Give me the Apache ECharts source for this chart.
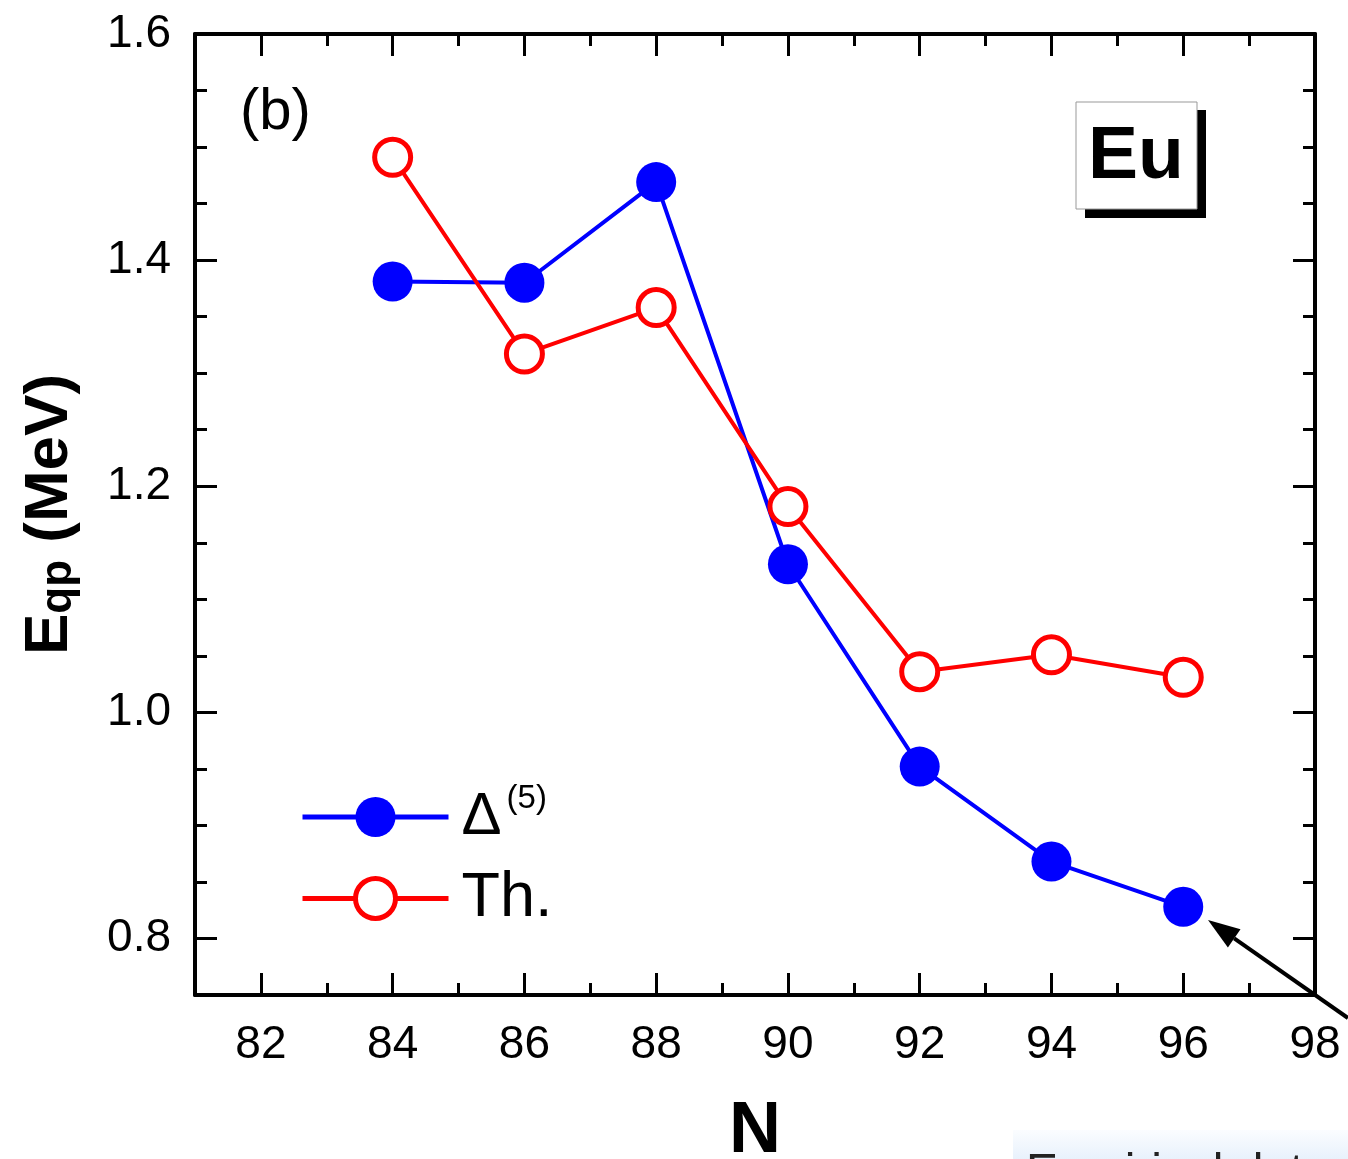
<!DOCTYPE html>
<html>
<head>
<meta charset="utf-8">
<title>Eu Eqp</title>
<script src="https://cdn.jsdelivr.net/npm/echarts@6/dist/echarts.min.js"></script>
<style>
    html, body { margin: 0; padding: 0; background: #fff; }
    #main { width: 1348px; height: 1159px; }
</style>
</head>
<body>
<div id="main"></div>
<script>
var fontFamily = 'Liberation Sans, Arial, sans-serif';

//数据
var nValues = [84, 86, 88, 90, 92, 94, 96];
var delta5 = [1.381, 1.380, 1.469, 1.131, 0.952, 0.868, 0.828];
var theory = [1.491, 1.317, 1.358, 1.182, 1.036, 1.051, 1.031];

//刻度
var xMajor = [82, 84, 86, 88, 90, 92, 94, 96, 98];
var xMinor = [83, 85, 87, 89, 91, 93, 95, 97];
var yMajor = [0.8, 1.0, 1.2, 1.4, 1.6];
var yMinor = [0.85, 0.9, 0.95, 1.05, 1.1, 1.15, 1.25, 1.3, 1.35, 1.45, 1.5, 1.55];

function pairs(xs, ys) {
    var out = [];
    for (var i = 0; i < xs.length; i++) out.push([xs[i], ys[i]]);
    return out;
}

//坐标轴
function makeAxis(opts) {
    return {
        type: 'value',
        min: opts.min,
        max: opts.max,
        position: opts.position,
        gridIndex: 0,
        axisLine: { show: opts.line, onZero: false, lineStyle: { color: '#000', width: 4 } },
        axisTick: {
            show: true, inside: true, length: opts.len,
            customValues: opts.ticks,
            lineStyle: { color: '#000', width: 3 }
        },
        axisLabel: opts.labels ? {
            show: true, customValues: opts.ticks,
            fontSize: 46, color: '#000', fontFamily: fontFamily,
            margin: opts.margin,
            formatter: opts.fmt
        } : { show: false },
        splitLine: { show: false },
        name: opts.name || '',
        nameLocation: 'middle',
        nameGap: opts.nameGap || 0,
        nameTextStyle: opts.nameStyle || {}
    };
}

var xAxes = [
    makeAxis({ min: 81, max: 98, position: 'bottom', line: true, len: 22, ticks: xMajor, labels: true, margin: 27,
        fmt: function(v) { return String(v); },
        name: 'N', nameGap: 101,
        nameStyle: { fontSize: 72, fontWeight: 'bold', color: '#000', fontFamily: fontFamily } }),
    makeAxis({ min: 81, max: 98, position: 'bottom', line: false, len: 12, ticks: xMinor }),
    makeAxis({ min: 81, max: 98, position: 'top', line: true, len: 22, ticks: xMajor }),
    makeAxis({ min: 81, max: 98, position: 'top', line: false, len: 12, ticks: xMinor })
];

var yAxes = [
    makeAxis({ min: 0.75, max: 1.6, position: 'left', line: true, len: 22, ticks: yMajor, labels: true, margin: 24,
        fmt: function(v) { return v.toFixed(1); },
        name: '{b|E}{s|qp}{b| (MeV)}', nameGap: 114,
        nameStyle: {
            color: '#000',
            rich: {
                b: { fontSize: 62, fontWeight: 'bold', fontFamily: fontFamily, lineHeight: 62, color: '#000' },
                s: { fontSize: 44, fontWeight: 'bold', fontFamily: fontFamily, lineHeight: 30, verticalAlign: 'bottom', color: '#000' }
            }
        } }),
    makeAxis({ min: 0.75, max: 1.6, position: 'left', line: false, len: 12, ticks: yMinor }),
    makeAxis({ min: 0.75, max: 1.6, position: 'right', line: true, len: 22, ticks: yMajor }),
    makeAxis({ min: 0.75, max: 1.6, position: 'right', line: false, len: 12, ticks: yMinor })
];

//箭头 (注释)
var tip = [1208, 920], ux = 0.819, uy = 0.574, headLen = 32, headW = 11;
var baseX = tip[0] + headLen * ux, baseY = tip[1] + headLen * uy;

var option = {
    animation: false,
    backgroundColor: '#fff',
    grid: { left: 195, right: 33, top: 34, bottom: 164, containLabel: false, outerBoundsMode: 'none' },
    xAxis: xAxes,
    yAxis: yAxes,
    legend: {
        orient: 'vertical',
        left: 300,
        top: 782,
        padding: 0,
        itemWidth: 146,
        itemHeight: 50,
        itemGap: 20,
        data: [
            { name: 'D5', itemStyle: { color: '#0000ff', borderWidth: 0 }, lineStyle: { color: '#0000ff', width: 5 } },
            { name: 'Th', itemStyle: { color: '#fff', borderColor: '#ff0000', borderWidth: 5 }, lineStyle: { color: '#ff0000', width: 5 } }
        ],
        formatter: function(name) {
            return name == 'D5' ? '{d|Δ}{sup|(5)}' : '{t|Th.}';
        },
        textStyle: {
            rich: {
                d: { fontSize: 60, fontFamily: fontFamily, color: '#000', lineHeight: 70, padding: [0, 0, 0, 8] },
                sup: { fontSize: 33, fontFamily: fontFamily, color: '#000', lineHeight: 30, verticalAlign: 'top', padding: [0, 0, 0, 5] },
                t: { fontSize: 63, fontFamily: fontFamily, color: '#000', lineHeight: 70, padding: [0, 0, 0, 8] }
            }
        }
    },
    series: [{
        name: 'D5',
        type: 'line',
        data: pairs(nValues, delta5),
        symbol: 'circle',
        symbolSize: 40,
        lineStyle: { color: '#0000ff', width: 4 },
        itemStyle: { color: '#0000ff' },
        z: 3
    }, {
        name: 'Th',
        type: 'line',
        data: pairs(nValues, theory),
        symbol: 'circle',
        symbolSize: 36,
        lineStyle: { color: '#ff0000', width: 4 },
        itemStyle: { color: '#fff', borderColor: '#ff0000', borderWidth: 5 },
        z: 4
    }],
    graphic: [
        { type: 'text', left: 240, top: 84, style: { text: '(b)', fontSize: 58, fontFamily: fontFamily, fill: '#000' } },
        //Eu 标签
        { type: 'rect', shape: { x: 1085, y: 110, width: 121, height: 108 }, style: { fill: '#000' }, z: 10 },
        { type: 'rect', shape: { x: 1076, y: 102, width: 121, height: 107 }, style: { fill: '#fff', stroke: '#999', lineWidth: 1 }, z: 11 },
        { type: 'text', x: 1136, y: 157, style: { text: 'Eu', fontSize: 75, fontWeight: 'bold', fontFamily: fontFamily, fill: '#000', align: 'center', verticalAlign: 'middle' }, z: 12 },
        //箭头
        { type: 'line', shape: { x1: 1348, y1: 1018, x2: baseX, y2: baseY }, style: { stroke: '#000', lineWidth: 4 }, z: 20 },
        { type: 'polygon', shape: { points: [tip, [baseX - headW * -uy, baseY - headW * ux], [baseX + headW * -uy, baseY + headW * ux]] }, style: { fill: '#000' }, z: 20 },
        //右下角遮挡框
        { type: 'rect', shape: { x: 1013, y: 1130, width: 335, height: 29 },
            style: { fill: new echarts.graphic.LinearGradient(0, 0, 0, 1, [{ offset: 0, color: '#fbfdff' }, { offset: 1, color: '#e8f1fc' }]) }, z: 20 },
        { type: 'text', x: 1026, y: 1150, style: { text: 'Empirical data', fontSize: 48, fontFamily: fontFamily, fill: '#222', verticalAlign: 'top' }, z: 21 }
    ]
};

var myChart = echarts.init(document.getElementById('main'));
myChart.setOption(option, true);
</script>
</body>
</html>
